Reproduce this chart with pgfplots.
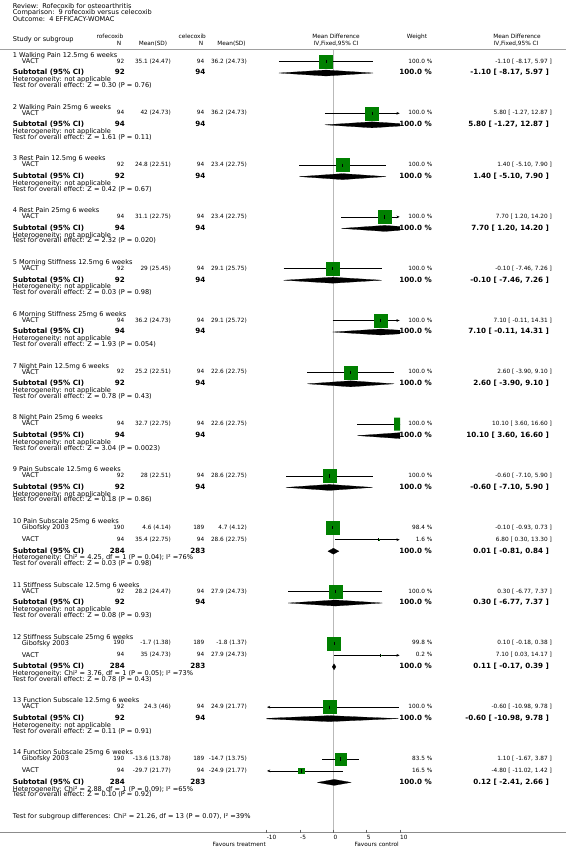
\documentclass[border=0pt]{standalone}
\usepackage{pgfplots}
\pgfplotsset{compat=1.18}
\usepackage{fontspec}
\setmainfont{DejaVu Sans}[Ligatures=NoCommon]
\usetikzlibrary{arrows.meta}
\definecolor{sqgreen}{RGB}{0,128,0}
\definecolor{lgray}{RGB}{185,185,185}
\definecolor{hgray}{RGB}{160,160,160}
\definecolor{agray}{RGB}{140,140,140}
\newcommand\sm{\fontsize{5.8}{7}\selectfont}
\newcommand\st{\fontsize{6.6}{7.8}\selectfont}
\newcommand\bd{\fontsize{7.2}{8.5}\selectfont\bfseries}
\tikzset{
 t/.style={inner sep=0pt, font=\sm, text height=4.4bp, text depth=1.2bp},
 tt/.style={inner sep=0pt, font=\st, text height=4.9bp, text depth=1.4bp},
 tb/.style={inner sep=0pt, font=\bd, text height=5.4bp, text depth=1.5bp},
}
\newcommand\txl[3]{\node[t,anchor=west] at (#1,#2) {#3};}
\newcommand\txr[3]{\node[t,anchor=east] at (#1,#2) {#3};}
\newcommand\txc[3]{\node[t,anchor=center] at (#1,#2) {#3};}
\newcommand\ttl[3]{\node[tt,anchor=west] at (#1,#2) {#3};}
\newcommand\bxl[3]{\node[tb,anchor=west] at (#1,#2) {#3};}
\newcommand\bxr[3]{\node[tb,anchor=east] at (#1,#2) {#3};}
% group title: first-study y, text
\newcommand\gtitle[2]{\ttl{12.7}{#1-6}{#2}}
% y, name, n1, m1, n2, m2, weight, ci
\newcommand\srow[8]{\ttl{21.7}{#1}{#2}\txr{124.5}{#1}{#3}\txr{171}{#1}{#4}\txr{204.5}{#1}{#5}\txr{247}{#1}{#6}\txr{432.5}{#1}{#7}\txr{552}{#1}{#8}}
% y, n1, n2, ci
\newcommand\subrow[4]{\bxl{12.7}{#1}{Subtotal (95\% CI)}\bxr{125}{#1}{#2}\bxr{205.5}{#1}{#3}\bxr{432}{#1}{100.0 \%}\bxr{549}{#1}{#4}}
% ysub, het, test
\newcommand\hetrow[3]{\ttl{12.7}{#1+7}{Heterogeneity: #2}\ttl{12.7}{#1+12.8}{Test for overall effect: #3}}
\pgfplotsset{
 ci/.style={black, line width=0.5bp},
 ra/.style={ci, -{Stealth[length=3.2bp,width=2.6bp]}},
 la/.style={ci, {Stealth[length=3.2bp,width=2.6bp]}-},
 tk/.style={only marks, mark=|, mark size=1.6bp, mark options={black, line width=0.45bp}},
 dia/.style={fill=black, draw=black, line width=0.2bp},
}
\newcommand\sq[3]{\addplot[only marks, mark=square*, mark size=#3bp, mark options={fill=sqgreen, draw=sqgreen}] coordinates {(#1,#2)};
\addplot[tk] coordinates {(#1,#2)};}
\begin{document}
\begin{tikzpicture}
\useasboundingbox (0,0) rectangle (566bp,-856bp);
\begin{axis}[at={(266.667bp,-856bp)}, anchor=south west, scale only axis,
 width=133.333bp, height=856bp, xmin=-10, xmax=10, ymin=0, ymax=856,
 y dir=reverse, hide axis, clip=true]
\addplot[lgray, line width=0.6bp] coordinates {(0,49) (0,832.5)};
% 1
\addplot[ci] coordinates {(-8.17,61.5) (5.97,61.5)};
\sq{-1.10}{61.5}{6.5}
\addplot[dia] coordinates {(-8.17,73) (-1.10,70) (5.97,73) (-1.10,76) (-8.17,73)};
% 2
\addplot[ra] coordinates {(-1.27,113.3) (9.95,113.3)};
\sq{5.80}{113.3}{6.5}
\addplot[dia] coordinates {(-1.27,124.8) (5.80,121.8) (12.87,124.8) (5.80,127.8) (-1.27,124.8)};
% 3
\addplot[ci] coordinates {(-5.10,165.1) (7.90,165.1)};
\sq{1.40}{165.1}{6.5}
\addplot[dia] coordinates {(-5.10,176.6) (1.40,173.6) (7.90,176.6) (1.40,179.6) (-5.10,176.6)};
% 4
\addplot[ra] coordinates {(1.20,216.9) (9.95,216.9)};
\sq{7.70}{216.9}{6.5}
\addplot[dia] coordinates {(1.20,228.4) (7.70,225.4) (14.20,228.4) (7.70,231.4) (1.20,228.4)};
% 5
\addplot[ci] coordinates {(-7.46,268.7) (7.26,268.7)};
\sq{-0.10}{268.7}{6.5}
\addplot[dia] coordinates {(-7.46,280.2) (-0.10,277.2) (7.26,280.2) (-0.10,283.2) (-7.46,280.2)};
% 6
\addplot[ra] coordinates {(-0.11,320.5) (9.95,320.5)};
\sq{7.10}{320.5}{6.5}
\addplot[dia] coordinates {(-0.11,332) (7.10,329) (14.31,332) (7.10,335) (-0.11,332)};
% 7
\addplot[ci] coordinates {(-3.90,372.3) (9.10,372.3)};
\sq{2.60}{372.3}{6.5}
\addplot[dia] coordinates {(-3.90,383.8) (2.60,380.8) (9.10,383.8) (2.60,386.8) (-3.90,383.8)};
% 8 (estimate 10.10 lies just past the axis limit: square drawn as an area, clipped)
\addplot[ci] coordinates {(3.60,424.1) (16.60,424.1)};
\addplot[fill=sqgreen, draw=none] coordinates {(9.125,417.6) (11.075,417.6) (11.075,430.6) (9.125,430.6) (9.125,417.6)};
\addplot[dia] coordinates {(3.60,435.6) (10.10,432.6) (16.60,435.6) (10.10,438.6) (3.60,435.6)};
% 9
\addplot[ci] coordinates {(-7.10,475.9) (5.90,475.9)};
\sq{-0.60}{475.9}{6.5}
\addplot[dia] coordinates {(-7.10,487.4) (-0.60,484.4) (5.90,487.4) (-0.60,490.4) (-7.10,487.4)};
% 10
\addplot[ci] coordinates {(-0.93,527.7) (0.73,527.7)};
\sq{-0.10}{527.7}{6.45}
\addplot[ra] coordinates {(0.30,539.7) (9.95,539.7)};
\sq{6.80}{539.7}{0.82}
\addplot[dia] coordinates {(-0.81,551.2) (0.01,548.2) (0.84,551.2) (0.01,554.2) (-0.81,551.2)};
% 11
\addplot[ci] coordinates {(-6.77,591.5) (7.37,591.5)};
\sq{0.30}{591.5}{6.5}
\addplot[dia] coordinates {(-6.77,603) (0.30,600) (7.37,603) (0.30,606) (-6.77,603)};
% 12
\addplot[ci] coordinates {(-0.18,643.3) (0.38,643.3)};
\sq{0.10}{643.3}{6.49}
\addplot[ra] coordinates {(0.03,655.3) (9.95,655.3)};
\sq{7.10}{655.3}{0.29}
\addplot[dia] coordinates {(-0.17,666.8) (0.11,663.8) (0.39,666.8) (0.11,669.8) (-0.17,666.8)};
% 13
\addplot[la] coordinates {(-9.95,707.1) (9.78,707.1)};
\sq{-0.60}{707.1}{6.5}
\addplot[dia] coordinates {(-10.98,718.6) (-0.60,715.6) (9.78,718.6) (-0.60,721.6) (-10.98,718.6)};
% 14
\addplot[ci] coordinates {(-1.67,758.9) (3.87,758.9)};
\sq{1.10}{758.9}{5.94}
\addplot[la] coordinates {(-9.95,770.9) (1.42,770.9)};
\sq{-4.80}{770.9}{2.64}
\addplot[dia] coordinates {(-2.41,782.4) (0.12,779.4) (2.66,782.4) (0.12,785.4) (-2.41,782.4)};
\end{axis}
\begin{scope}[x=1bp,y=-1bp]
\ttl{12.7}{6.5}{Review:\ \ Rofecoxib for osteoarthritis}
\ttl{12.7}{13}{Comparison:\ \ 9 rofecoxib versus celecoxib}
\ttl{12.7}{19.5}{Outcome:\ \ 4 EFFICACY-WOMAC}
\ttl{12.7}{40}{Study or subgroup}
\txr{123.5}{36.5}{rofecoxib}
\txc{119}{44}{N}
\txc{153}{44}{Mean(SD)}
\txr{206}{36.5}{celecoxib}
\txc{201}{44}{N}
\txc{231.5}{44}{Mean(SD)}
\txc{336}{36.5}{Mean Difference}
\txc{336}{44}{IV,Fixed,95\% CI}
\txc{417}{36.7}{Weight}
\txc{517}{36.5}{Mean Difference}
\txc{516}{44}{IV,Fixed,95\% CI}
\draw[hgray, line width=0.9bp] (0,49) -- (566,49);
% 1
\gtitle{61.5}{1 Walking Pain 12.5mg 6 weeks}
\srow{61.5}{VACT}{92}{35.1 (24.47)}{94}{36.2 (24.73)}{100.0 \%}{-1.10 [ -8.17, 5.97 ]}
\subrow{73}{92}{94}{-1.10 [ -8.17, 5.97 ]}
\hetrow{73}{not applicable}{Z = 0.30 (P = 0.76)}
% 2
\gtitle{113.3}{2 Walking Pain 25mg 6 weeks}
\srow{113.3}{VACT}{94}{42 (24.73)}{94}{36.2 (24.73)}{100.0 \%}{5.80 [ -1.27, 12.87 ]}
\subrow{124.8}{94}{94}{5.80 [ -1.27, 12.87 ]}
\hetrow{124.8}{not applicable}{Z = 1.61 (P = 0.11)}
% 3
\gtitle{165.1}{3 Rest Pain 12.5mg 6 weeks}
\srow{165.1}{VACT}{92}{24.8 (22.51)}{94}{23.4 (22.75)}{100.0 \%}{1.40 [ -5.10, 7.90 ]}
\subrow{176.6}{92}{94}{1.40 [ -5.10, 7.90 ]}
\hetrow{176.6}{not applicable}{Z = 0.42 (P = 0.67)}
% 4
\gtitle{216.9}{4 Rest Pain 25mg 6 weeks}
\srow{216.9}{VACT}{94}{31.1 (22.75)}{94}{23.4 (22.75)}{100.0 \%}{7.70 [ 1.20, 14.20 ]}
\subrow{228.4}{94}{94}{7.70 [ 1.20, 14.20 ]}
\hetrow{228.4}{not applicable}{Z = 2.32 (P = 0.020)}
% 5
\gtitle{268.7}{5 Morning Stiffness 12.5mg 6 weeks}
\srow{268.7}{VACT}{92}{29 (25.45)}{94}{29.1 (25.75)}{100.0 \%}{-0.10 [ -7.46, 7.26 ]}
\subrow{280.2}{92}{94}{-0.10 [ -7.46, 7.26 ]}
\hetrow{280.2}{not applicable}{Z = 0.03 (P = 0.98)}
% 6
\gtitle{320.5}{6 Morning Stiffness 25mg 6 weeks}
\srow{320.5}{VACT}{94}{36.2 (24.73)}{94}{29.1 (25.72)}{100.0 \%}{7.10 [ -0.11, 14.31 ]}
\subrow{332}{94}{94}{7.10 [ -0.11, 14.31 ]}
\hetrow{332}{not applicable}{Z = 1.93 (P = 0.054)}
% 7
\gtitle{372.3}{7 Night Pain 12.5mg 6 weeks}
\srow{372.3}{VACT}{92}{25.2 (22.51)}{94}{22.6 (22.75)}{100.0 \%}{2.60 [ -3.90, 9.10 ]}
\subrow{383.8}{92}{94}{2.60 [ -3.90, 9.10 ]}
\hetrow{383.8}{not applicable}{Z = 0.78 (P = 0.43)}
% 8
\gtitle{424.1}{8 Night Pain 25mg 6 weeks}
\srow{424.1}{VACT}{94}{32.7 (22.75)}{94}{22.6 (22.75)}{100.0 \%}{10.10 [ 3.60, 16.60 ]}
\subrow{435.6}{94}{94}{10.10 [ 3.60, 16.60 ]}
\hetrow{435.6}{not applicable}{Z = 3.04 (P = 0.0023)}
% 9
\gtitle{475.9}{9 Pain Subscale 12.5mg 6 weeks}
\srow{475.9}{VACT}{92}{28 (22.51)}{94}{28.6 (22.75)}{100.0 \%}{-0.60 [ -7.10, 5.90 ]}
\subrow{487.4}{92}{94}{-0.60 [ -7.10, 5.90 ]}
\hetrow{487.4}{not applicable}{Z = 0.18 (P = 0.86)}
% 10
\gtitle{527.7}{10 Pain Subscale 25mg 6 weeks}
\srow{527.7}{Gibofsky 2003}{190}{4.6 (4.14)}{189}{4.7 (4.12)}{98.4 \%}{-0.10 [ -0.93, 0.73 ]}
\srow{539.7}{VACT}{94}{35.4 (22.75)}{94}{28.6 (22.75)}{1.6 \%}{6.80 [ 0.30, 13.30 ]}
\subrow{551.2}{284}{283}{0.01 [ -0.81, 0.84 ]}
\hetrow{551.2}{Chi² = 4.25, df = 1 (P = 0.04); I² =76\%}{Z = 0.03 (P = 0.98)}
% 11
\gtitle{591.5}{11 Stiffness Subscale 12.5mg 6 weeks}
\srow{591.5}{VACT}{92}{28.2 (24.47)}{94}{27.9 (24.73)}{100.0 \%}{0.30 [ -6.77, 7.37 ]}
\subrow{603}{92}{94}{0.30 [ -6.77, 7.37 ]}
\hetrow{603}{not applicable}{Z = 0.08 (P = 0.93)}
% 12
\gtitle{643.3}{12 Stiffness Subscale 25mg 6 weeks}
\srow{643.3}{Gibofsky 2003}{190}{-1.7 (1.38)}{189}{-1.8 (1.37)}{99.8 \%}{0.10 [ -0.18, 0.38 ]}
\srow{655.3}{VACT}{94}{35 (24.73)}{94}{27.9 (24.73)}{0.2 \%}{7.10 [ 0.03, 14.17 ]}
\subrow{666.8}{284}{283}{0.11 [ -0.17, 0.39 ]}
\hetrow{666.8}{Chi² = 3.76, df = 1 (P = 0.05); I² =73\%}{Z = 0.78 (P = 0.43)}
% 13
\gtitle{707.1}{13 Function Subscale 12.5mg 6 weeks}
\srow{707.1}{VACT}{92}{24.3 (46)}{94}{24.9 (21.77)}{100.0 \%}{-0.60 [ -10.98, 9.78 ]}
\subrow{718.6}{92}{94}{-0.60 [ -10.98, 9.78 ]}
\hetrow{718.6}{not applicable}{Z = 0.11 (P = 0.91)}
% 14
\gtitle{758.9}{14 Function Subscale 25mg 6 weeks}
\srow{758.9}{Gibofsky 2003}{190}{-13.6 (13.78)}{189}{-14.7 (13.75)}{83.5 \%}{1.10 [ -1.67, 3.87 ]}
\srow{770.9}{VACT}{94}{-29.7 (21.77)}{94}{-24.9 (21.77)}{16.5 \%}{-4.80 [ -11.02, 1.42 ]}
\subrow{782.4}{284}{283}{0.12 [ -2.41, 2.66 ]}
\hetrow{782.4}{Chi² = 2.88, df = 1 (P = 0.09); I² =65\%}{Z = 0.10 (P = 0.92)}
% bottom
\ttl{12.7}{817}{Test for subgroup differences: Chi² = 21.26, df = 13 (P = 0.07), I² =39\%}
\draw[agray, line width=1.1bp] (0,832.5) -- (566,832.5);
\foreach \x in {266.667,300,333.333,366.667,400} {\draw[agray!70!black, line width=0.5bp] (\x,829.5) -- (\x,832.5);}
\txl{266.7}{837.5}{-10}
\txl{300}{837.5}{-5}
\txl{333.3}{837.5}{0}
\txl{366.7}{837.5}{5}
\txl{400}{837.5}{10}
\txr{266}{845}{Favours treatment}
\txr{399}{845}{Favours control}
\end{scope}
\end{tikzpicture}
\end{document}
